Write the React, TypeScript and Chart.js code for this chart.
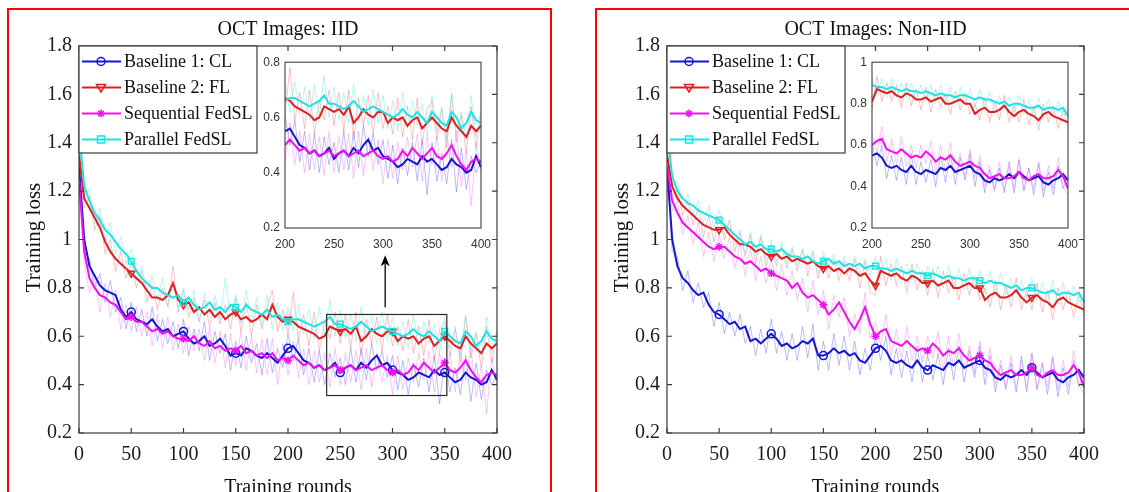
import React, { useEffect, useRef } from 'react';
import { Chart, registerables } from 'chart.js';

Chart.register(...registerables);

// ---------------- DATA ----------------
const ROUNDS = [
  0, 5, 10, 15, 20, 25, 30, 35, 40, 45,
  50, 55, 60, 65, 70, 75, 80, 85, 90, 95,
  100, 105, 110, 115, 120, 125, 130, 135, 140, 145,
  150, 155, 160, 165, 170, 175, 180, 185, 190, 195,
  200, 205, 210, 215, 220, 225, 230, 235, 240, 245,
  250, 255, 260, 265, 270, 275, 280, 285, 290, 295,
  300, 305, 310, 315, 320, 325, 330, 335, 340, 345,
  350, 355, 360, 365, 370, 375, 380, 385, 390, 395,
  400,
];

const LEGEND_LABELS = ['Baseline 1: CL', 'Baseline 2: FL', 'Sequential FedSL', 'Parallel FedSL'];
const TITLES = ['OCT Images: IID', 'OCT Images: Non-IID'];
const X_TITLE = 'Training rounds';
const Y_TITLE = 'Training loss';

const MAIN_X = { min: 0, max: 400, step: 50 };
const MAIN_Y = { min: 0.2, max: 1.8, step: 0.2 };
const INSET_X = { min: 200, max: 400, step: 50 };
const INSET_Y_IID = { min: 0.2, max: 0.8, step: 0.2 };
const INSET_Y_NIID = { min: 0.2, max: 1.0, step: 0.2 };
const MARKER_ROUNDS = [50, 100, 150, 200, 250, 300, 350];

// zoom rectangle and arrow of the IID panel (data units)
const ZOOM_BOX = { x0: 237, x1: 352, y0: 0.355, y1: 0.69 };
const ARROW = { x: 293, y0: 0.72, y1: 0.935 };

// ---- IID, smoothed ----
const CL_IID_SMOOTH = [
  1.30, 1.00, 0.89, 0.85, 0.81, 0.79, 0.78, 0.77, 0.71, 0.68,
  0.70, 0.67, 0.66, 0.65, 0.67, 0.64, 0.62, 0.63, 0.60, 0.61,
  0.62, 0.59, 0.57, 0.58, 0.60, 0.56, 0.57, 0.59, 0.56, 0.52,
  0.53, 0.52, 0.55, 0.54, 0.52, 0.51, 0.53, 0.51, 0.49, 0.52,
  0.55, 0.56, 0.53, 0.50, 0.49, 0.47, 0.48, 0.46, 0.47, 0.49,
  0.45, 0.47, 0.48, 0.46, 0.49, 0.47, 0.50, 0.52, 0.48, 0.49,
  0.46, 0.45, 0.44, 0.42, 0.43, 0.45, 0.44, 0.43, 0.46, 0.44,
  0.45, 0.43, 0.41, 0.42, 0.45, 0.43, 0.42, 0.40, 0.41, 0.46,
  0.42,
];
const FL_IID_SMOOTH = [
  1.35, 1.17, 1.13, 1.09, 1.05, 0.99, 0.95, 0.92, 0.90, 0.88,
  0.86, 0.84, 0.82, 0.79, 0.76, 0.76, 0.75, 0.77, 0.82, 0.75,
  0.73, 0.74, 0.70, 0.72, 0.69, 0.71, 0.68, 0.70, 0.67, 0.69,
  0.70, 0.67, 0.68, 0.66, 0.67, 0.69, 0.67, 0.73, 0.68, 0.66,
  0.67, 0.66, 0.64, 0.63, 0.62, 0.61, 0.59, 0.60, 0.64, 0.63,
  0.62, 0.63, 0.61, 0.64, 0.58, 0.60, 0.63, 0.61, 0.60, 0.62,
  0.62, 0.58, 0.60, 0.59, 0.60, 0.57, 0.59, 0.60, 0.56, 0.58,
  0.60, 0.58, 0.56, 0.55, 0.60, 0.57, 0.55, 0.53, 0.57, 0.55,
  0.57,
];
const SEQ_IID_SMOOTH = [
  1.25, 0.95, 0.84, 0.80, 0.77, 0.76, 0.74, 0.73, 0.70, 0.67,
  0.68, 0.66, 0.66, 0.64, 0.62, 0.63, 0.61, 0.62, 0.60, 0.59,
  0.59, 0.58, 0.60, 0.57, 0.56, 0.58, 0.55, 0.56, 0.54, 0.55,
  0.54, 0.56, 0.53, 0.54, 0.52, 0.53, 0.51, 0.53, 0.50, 0.51,
  0.50, 0.52, 0.50, 0.48, 0.49, 0.47, 0.48, 0.46, 0.47, 0.48,
  0.46, 0.47, 0.48, 0.46, 0.47, 0.48, 0.46, 0.47, 0.48, 0.46,
  0.45, 0.46, 0.44, 0.45, 0.48, 0.46, 0.49, 0.47, 0.45, 0.47,
  0.49, 0.46, 0.45, 0.47, 0.50, 0.46, 0.43, 0.41, 0.44, 0.45,
  0.44,
];
const PAR_IID_SMOOTH = [
  1.45, 1.22, 1.16, 1.11, 1.08, 1.04, 1.02, 0.99, 0.96, 0.94,
  0.91, 0.87, 0.84, 0.82, 0.80, 0.80, 0.78, 0.77, 0.76, 0.77,
  0.74, 0.76, 0.73, 0.71, 0.72, 0.74, 0.71, 0.72, 0.70, 0.73,
  0.72, 0.70, 0.73, 0.71, 0.70, 0.69, 0.71, 0.68, 0.69, 0.67,
  0.66, 0.67, 0.67, 0.66, 0.65, 0.64, 0.65, 0.66, 0.68, 0.65,
  0.65, 0.64, 0.63, 0.64, 0.66, 0.64, 0.62, 0.63, 0.64, 0.63,
  0.62, 0.61, 0.60, 0.61, 0.63, 0.61, 0.60, 0.62, 0.60, 0.58,
  0.62, 0.60, 0.58, 0.57, 0.62, 0.60, 0.56, 0.58, 0.62, 0.59,
  0.58,
];

// ---- IID, raw ----
const CL_IID_RAW = [
  1.30, 0.95, 0.92, 0.80, 0.86, 0.74, 0.83, 0.70, 0.76, 0.63,
  0.74, 0.62, 0.71, 0.60, 0.72, 0.58, 0.67, 0.57, 0.66, 0.55,
  0.67, 0.52, 0.63, 0.54, 0.66, 0.50, 0.62, 0.53, 0.61, 0.46,
  0.58, 0.47, 0.60, 0.49, 0.57, 0.44, 0.59, 0.45, 0.55, 0.47,
  0.61, 0.50, 0.59, 0.44, 0.55, 0.41, 0.54, 0.40, 0.53, 0.43,
  0.51, 0.40, 0.55, 0.41, 0.55, 0.42, 0.57, 0.46, 0.54, 0.43,
  0.52, 0.38, 0.50, 0.36, 0.49, 0.39, 0.51, 0.37, 0.52, 0.32,
  0.51, 0.37, 0.47, 0.36, 0.52, 0.33, 0.49, 0.34, 0.46, 0.40,
  0.44,
];
const FL_IID_RAW = [
  1.36, 1.13, 1.18, 1.04, 1.10, 0.94, 1.00, 0.87, 0.95, 0.84,
  0.90, 0.80, 0.87, 0.74, 0.81, 0.71, 0.80, 0.72, 0.89, 0.70,
  0.79, 0.68, 0.76, 0.66, 0.75, 0.64, 0.74, 0.65, 0.73, 0.63,
  0.76, 0.62, 0.74, 0.60, 0.73, 0.63, 0.72, 0.79, 0.62, 0.71,
  0.61, 0.78, 0.59, 0.69, 0.56, 0.70, 0.54, 0.66, 0.59, 0.70,
  0.57, 0.69, 0.55, 0.70, 0.52, 0.67, 0.57, 0.68, 0.54, 0.69,
  0.56, 0.64, 0.54, 0.67, 0.53, 0.64, 0.52, 0.67, 0.50, 0.63,
  0.66, 0.52, 0.63, 0.49, 0.68, 0.51, 0.61, 0.47, 0.64, 0.49,
  0.62,
];
const SEQ_IID_RAW = [
  1.25, 0.90, 0.78, 0.85, 0.70, 0.82, 0.68, 0.79, 0.63, 0.73,
  0.62, 0.72, 0.60, 0.70, 0.56, 0.69, 0.55, 0.68, 0.54, 0.65,
  0.53, 0.64, 0.54, 0.63, 0.50, 0.64, 0.49, 0.62, 0.47, 0.61,
  0.48, 0.62, 0.46, 0.60, 0.45, 0.59, 0.44, 0.59, 0.40, 0.57,
  0.44, 0.58, 0.43, 0.55, 0.40, 0.54, 0.41, 0.53, 0.39, 0.55,
  0.40, 0.53, 0.41, 0.54, 0.38, 0.55, 0.39, 0.53, 0.41, 0.52,
  0.36, 0.52, 0.38, 0.51, 0.41, 0.53, 0.42, 0.54, 0.37, 0.53,
  0.43, 0.53, 0.37, 0.54, 0.42, 0.55, 0.35, 0.48, 0.28, 0.51,
  0.40,
];
const PAR_IID_RAW = [
  1.45, 1.18, 1.21, 1.06, 1.13, 1.00, 1.07, 0.94, 1.01, 0.90,
  0.96, 0.83, 0.89, 0.78, 0.85, 0.75, 0.84, 0.72, 0.82, 0.72,
  0.80, 0.71, 0.79, 0.66, 0.78, 0.69, 0.77, 0.67, 0.84, 0.68,
  0.77, 0.65, 0.79, 0.66, 0.76, 0.64, 0.77, 0.63, 0.74, 0.62,
  0.72, 0.62, 0.73, 0.61, 0.71, 0.59, 0.72, 0.61, 0.75, 0.60,
  0.71, 0.59, 0.69, 0.58, 0.72, 0.59, 0.68, 0.57, 0.70, 0.58,
  0.68, 0.56, 0.66, 0.55, 0.69, 0.56, 0.66, 0.57, 0.65, 0.53,
  0.68, 0.55, 0.64, 0.52, 0.69, 0.54, 0.62, 0.52, 0.68, 0.53,
  0.63,
];

// ---- Non-IID, smoothed ----
const CL_NIID_SMOOTH = [
  1.30, 1.00, 0.89, 0.84, 0.82, 0.79, 0.77, 0.78, 0.73, 0.70,
  0.69, 0.67, 0.65, 0.66, 0.63, 0.64, 0.58, 0.59, 0.57, 0.59,
  0.61, 0.59, 0.56, 0.57, 0.55, 0.56, 0.58, 0.57, 0.59, 0.52,
  0.52, 0.53, 0.55, 0.53, 0.54, 0.52, 0.53, 0.50, 0.49, 0.52,
  0.55, 0.56, 0.54, 0.50, 0.49, 0.50, 0.48, 0.47, 0.50, 0.47,
  0.46, 0.48, 0.47, 0.46, 0.49, 0.48, 0.50, 0.47, 0.48, 0.49,
  0.50, 0.47, 0.46, 0.43, 0.42, 0.44, 0.43, 0.44, 0.46, 0.44,
  0.47, 0.45, 0.43, 0.44, 0.45, 0.42, 0.41, 0.43, 0.44, 0.46,
  0.43,
];
const FL_NIID_SMOOTH = [
  1.35, 1.22, 1.17, 1.14, 1.12, 1.10, 1.08, 1.06, 1.05, 1.04,
  1.04, 1.05, 1.02, 1.00, 0.98, 0.98, 0.97, 0.95, 0.96, 0.94,
  0.93, 0.94, 0.92, 0.93, 0.91, 0.92, 0.91, 0.90, 0.91, 0.89,
  0.88, 0.89, 0.87, 0.88, 0.86, 0.88, 0.87, 0.85, 0.86, 0.83,
  0.81, 0.87, 0.86, 0.85, 0.86, 0.84, 0.83, 0.85, 0.84, 0.82,
  0.82, 0.83, 0.81, 0.82, 0.83, 0.80, 0.80, 0.81, 0.82, 0.80,
  0.80, 0.75, 0.77, 0.78, 0.76, 0.76, 0.77, 0.79, 0.76, 0.74,
  0.76, 0.77, 0.75, 0.74, 0.72, 0.75, 0.76, 0.74, 0.73, 0.72,
  0.71,
];
const SEQ_NIID_SMOOTH = [
  1.30, 1.16, 1.11, 1.07, 1.05, 1.03, 1.01, 0.99, 0.97, 0.96,
  0.97, 0.97, 0.95, 0.93, 0.92, 0.90, 0.91, 0.89, 0.87, 0.88,
  0.86, 0.85, 0.84, 0.83, 0.80, 0.82, 0.78, 0.76, 0.77, 0.75,
  0.73, 0.69, 0.71, 0.74, 0.70, 0.66, 0.63, 0.67, 0.72, 0.65,
  0.60, 0.62, 0.63, 0.58, 0.57, 0.56, 0.58, 0.56, 0.54, 0.55,
  0.54, 0.57, 0.55, 0.52, 0.54, 0.53, 0.55, 0.52, 0.50, 0.51,
  0.52, 0.50, 0.49, 0.46, 0.44, 0.45, 0.46, 0.44, 0.44, 0.45,
  0.47, 0.44, 0.43, 0.45, 0.46, 0.44, 0.44, 0.45, 0.48, 0.45,
  0.39,
];
const PAR_NIID_SMOOTH = [
  1.45, 1.26, 1.20, 1.17, 1.15, 1.14, 1.12, 1.11, 1.10, 1.09,
  1.08, 1.06, 1.04, 1.02, 1.00, 0.98, 0.99, 0.97, 0.98, 0.96,
  0.96, 0.95, 0.96, 0.94, 0.93, 0.93, 0.92, 0.93, 0.91, 0.90,
  0.91, 0.92, 0.90, 0.91, 0.89, 0.90, 0.89, 0.90, 0.88, 0.89,
  0.89, 0.88, 0.88, 0.87, 0.88, 0.87, 0.86, 0.87, 0.86, 0.86,
  0.85, 0.86, 0.85, 0.84, 0.85, 0.84, 0.84, 0.83, 0.84, 0.84,
  0.83, 0.82, 0.83, 0.82, 0.82, 0.81, 0.80, 0.81, 0.79, 0.80,
  0.80, 0.79, 0.78, 0.78, 0.79, 0.77, 0.78, 0.78, 0.77, 0.78,
  0.74,
];

// ---- Non-IID, raw ----
const CL_NIID_RAW = [
  1.30, 0.95, 0.93, 0.79, 0.87, 0.74, 0.82, 0.72, 0.78, 0.64,
  0.74, 0.61, 0.70, 0.60, 0.69, 0.57, 0.64, 0.52, 0.63, 0.53,
  0.67, 0.53, 0.62, 0.50, 0.61, 0.50, 0.64, 0.51, 0.65, 0.46,
  0.58, 0.46, 0.61, 0.48, 0.60, 0.46, 0.58, 0.44, 0.55, 0.46,
  0.61, 0.50, 0.60, 0.44, 0.55, 0.43, 0.54, 0.41, 0.56, 0.41,
  0.52, 0.42, 0.53, 0.40, 0.55, 0.42, 0.56, 0.41, 0.54, 0.43,
  0.56, 0.40, 0.52, 0.37, 0.48, 0.38, 0.49, 0.37, 0.52, 0.37,
  0.53, 0.38, 0.49, 0.36, 0.51, 0.35, 0.47, 0.36, 0.50, 0.39,
  0.45,
];
const FL_NIID_RAW = [
  1.35, 1.18, 1.21, 1.10, 1.16, 1.06, 1.13, 1.01, 1.10, 0.99,
  1.09, 1.00, 1.08, 0.95, 1.03, 0.93, 1.02, 0.90, 1.01, 0.89,
  0.98, 0.89, 0.97, 0.88, 0.96, 0.87, 0.96, 0.85, 0.95, 0.84,
  0.93, 0.84, 0.92, 0.83, 0.91, 0.83, 0.92, 0.80, 0.91, 0.78,
  0.77, 0.93, 0.81, 0.90, 0.81, 0.89, 0.78, 0.90, 0.79, 0.87,
  0.77, 0.88, 0.76, 0.87, 0.78, 0.85, 0.75, 0.86, 0.77, 0.85,
  0.75, 0.80, 0.72, 0.83, 0.71, 0.81, 0.72, 0.84, 0.71, 0.79,
  0.71, 0.82, 0.70, 0.79, 0.67, 0.80, 0.71, 0.79, 0.68, 0.77,
  0.69,
];
const SEQ_NIID_RAW = [
  1.30, 1.12, 1.16, 1.02, 1.10, 0.98, 1.07, 0.93, 1.03, 0.91,
  1.02, 0.92, 1.01, 0.88, 0.98, 0.85, 0.97, 0.83, 0.93, 0.82,
  0.92, 0.79, 0.90, 0.77, 0.87, 0.75, 0.84, 0.70, 0.83, 0.69,
  0.79, 0.63, 0.77, 0.68, 0.76, 0.60, 0.69, 0.61, 0.78, 0.59,
  0.66, 0.56, 0.69, 0.52, 0.63, 0.50, 0.64, 0.50, 0.60, 0.49,
  0.60, 0.51, 0.62, 0.46, 0.60, 0.47, 0.61, 0.46, 0.56, 0.45,
  0.58, 0.44, 0.55, 0.40, 0.50, 0.39, 0.52, 0.38, 0.50, 0.39,
  0.53, 0.38, 0.49, 0.39, 0.52, 0.38, 0.50, 0.39, 0.54, 0.40,
  0.36,
];
const PAR_NIID_RAW = [
  1.45, 1.22, 1.24, 1.13, 1.19, 1.10, 1.16, 1.07, 1.14, 1.05,
  1.12, 1.02, 1.08, 0.98, 1.04, 0.94, 1.03, 0.93, 1.02, 0.92,
  1.00, 0.91, 0.99, 0.90, 0.97, 0.89, 0.96, 0.89, 0.95, 0.86,
  0.95, 0.88, 0.94, 0.87, 0.93, 0.86, 0.93, 0.86, 0.92, 0.85,
  0.93, 0.84, 0.92, 0.83, 0.92, 0.83, 0.90, 0.83, 0.90, 0.82,
  0.89, 0.82, 0.89, 0.80, 0.89, 0.80, 0.88, 0.79, 0.88, 0.80,
  0.87, 0.78, 0.87, 0.78, 0.86, 0.77, 0.84, 0.77, 0.83, 0.76,
  0.84, 0.75, 0.82, 0.74, 0.83, 0.73, 0.82, 0.74, 0.81, 0.74,
  0.77,
];

// ---------------- STYLE ----------------
const SERIF = "'Liberation Serif', 'Times New Roman', serif";
const SANS = "'Liberation Sans', Arial, sans-serif";

type MarkerKind = 'circle' | 'triangle' | 'star' | 'rect';
const STYLES: { color: string; rawColor: string; marker: MarkerKind }[] = [
  { color: '#1414d4', rawColor: 'rgba(105,105,245,0.45)', marker: 'circle' },
  { color: '#e02020', rawColor: 'rgba(240,100,100,0.38)', marker: 'triangle' },
  { color: '#f00ff0', rawColor: 'rgba(245,120,245,0.42)', marker: 'star' },
  { color: '#1ee3e3', rawColor: 'rgba(110,240,240,0.5)', marker: 'rect' },
];

type Series = { label: string; smooth: number[]; raw: number[] };
const IID_SERIES: Series[] = [
  { label: LEGEND_LABELS[0], smooth: CL_IID_SMOOTH, raw: CL_IID_RAW },
  { label: LEGEND_LABELS[1], smooth: FL_IID_SMOOTH, raw: FL_IID_RAW },
  { label: LEGEND_LABELS[2], smooth: SEQ_IID_SMOOTH, raw: SEQ_IID_RAW },
  { label: LEGEND_LABELS[3], smooth: PAR_IID_SMOOTH, raw: PAR_IID_RAW },
];
const NIID_SERIES: Series[] = [
  { label: LEGEND_LABELS[0], smooth: CL_NIID_SMOOTH, raw: CL_NIID_RAW },
  { label: LEGEND_LABELS[1], smooth: FL_NIID_SMOOTH, raw: FL_NIID_RAW },
  { label: LEGEND_LABELS[2], smooth: SEQ_NIID_SMOOTH, raw: SEQ_NIID_RAW },
  { label: LEGEND_LABELS[3], smooth: PAR_NIID_SMOOTH, raw: PAR_NIID_RAW },
];

const fmtTick = (v: any) => String(+Number(v).toFixed(1));

function buildDatasets(series: Series[], minRound: number, markers: boolean, lw: number) {
  const out: any[] = [];
  const pts = (arr: number[]) =>
    ROUNDS.map((r, i) => ({ x: r, y: arr[i] })).filter((p) => p.x >= minRound);
  series.forEach((s, k) => {
    const st = STYLES[k];
    out.push({
      label: s.label + ' (raw)',
      data: pts(s.raw),
      borderColor: st.rawColor,
      backgroundColor: st.rawColor,
      borderWidth: 1,
      pointRadius: 0,
      fill: false,
      tension: 0,
      order: 20 - k,
    });
    out.push({
      label: s.label,
      data: pts(s.smooth),
      borderColor: st.color,
      backgroundColor: 'rgba(0,0,0,0)',
      borderWidth: lw,
      fill: false,
      tension: 0,
      order: 10 - k,
      pointStyle: st.marker,
      pointRotation: st.marker === 'triangle' ? 180 : 0,
      pointBorderColor: st.color,
      pointBackgroundColor: 'rgba(0,0,0,0)',
      pointBorderWidth: 1.5,
      pointRadius: (c: any) => (markers && c.raw && MARKER_ROUNDS.includes(c.raw.x) ? 4 : 0),
    });
  });
  return out;
}

function drawMarker(ctx: CanvasRenderingContext2D, kind: MarkerKind, x: number, y: number, color: string) {
  ctx.save();
  ctx.strokeStyle = color;
  ctx.lineWidth = 1.5;
  ctx.beginPath();
  if (kind === 'circle') ctx.arc(x, y, 4, 0, Math.PI * 2);
  else if (kind === 'triangle') {
    ctx.moveTo(x, y + 4.5);
    ctx.lineTo(x - 4.5, y - 3);
    ctx.lineTo(x + 4.5, y - 3);
    ctx.closePath();
  } else if (kind === 'rect') ctx.rect(x - 3.5, y - 3.5, 7, 7);
  else {
    for (let k = 0; k < 4; k++) {
      const an = (k * Math.PI) / 4;
      ctx.moveTo(x - 4 * Math.cos(an), y - 4 * Math.sin(an));
      ctx.lineTo(x + 4 * Math.cos(an), y + 4 * Math.sin(an));
    }
  }
  ctx.stroke();
  ctx.restore();
}

type PanelCfg = { title: string; series: Series[]; zoom: boolean };

function mainDecor(panel: PanelCfg) {
  return {
    id: 'mainDecor',
    afterDraw(chart: any) {
      const { ctx, chartArea: a } = chart;
      const xs = chart.scales.x;
      const ys = chart.scales.y;
      ctx.save();
      // box + inward ticks
      ctx.strokeStyle = '#3a3a3a';
      ctx.lineWidth = 1.2;
      ctx.strokeRect(a.left, a.top, a.right - a.left, a.bottom - a.top);
      ctx.beginPath();
      xs.ticks.forEach((t: any) => {
        const px = xs.getPixelForValue(t.value);
        ctx.moveTo(px, a.bottom);
        ctx.lineTo(px, a.bottom - 5);
        ctx.moveTo(px, a.top);
        ctx.lineTo(px, a.top + 5);
      });
      ys.ticks.forEach((t: any) => {
        const py = ys.getPixelForValue(t.value);
        ctx.moveTo(a.left, py);
        ctx.lineTo(a.left + 5, py);
        ctx.moveTo(a.right, py);
        ctx.lineTo(a.right - 5, py);
      });
      ctx.stroke();

      // zoom box + arrow
      if (panel.zoom) {
        const x0 = xs.getPixelForValue(ZOOM_BOX.x0);
        const x1 = xs.getPixelForValue(ZOOM_BOX.x1);
        const y0 = ys.getPixelForValue(ZOOM_BOX.y0);
        const y1 = ys.getPixelForValue(ZOOM_BOX.y1);
        ctx.strokeStyle = '#2a2a2a';
        ctx.lineWidth = 1.2;
        ctx.strokeRect(x0, y1, x1 - x0, y0 - y1);
        const ax = xs.getPixelForValue(ARROW.x);
        const ay0 = ys.getPixelForValue(ARROW.y0);
        const ay1 = ys.getPixelForValue(ARROW.y1);
        ctx.strokeStyle = '#000';
        ctx.lineWidth = 1.3;
        ctx.beginPath();
        ctx.moveTo(ax, ay0);
        ctx.lineTo(ax, ay1 + 8);
        ctx.stroke();
        ctx.fillStyle = '#000';
        ctx.beginPath();
        ctx.moveTo(ax, ay1);
        ctx.lineTo(ax - 4.5, ay1 + 11);
        ctx.lineTo(ax, ay1 + 8);
        ctx.lineTo(ax + 4.5, ay1 + 11);
        ctx.closePath();
        ctx.fill();
      }

      // legend
      const lx = a.left;
      const ly = a.top;
      ctx.fillStyle = '#fff';
      ctx.fillRect(lx, ly, 178, 107);
      ctx.strokeStyle = '#3a3a3a';
      ctx.lineWidth = 1.2;
      ctx.strokeRect(lx, ly, 178, 107);
      ctx.font = `18px ${SERIF}`;
      ctx.textAlign = 'left';
      ctx.textBaseline = 'middle';
      panel.series.forEach((s, k) => {
        const st = STYLES[k];
        const cy = ly + 15.5 + 26 * k;
        ctx.strokeStyle = st.color;
        ctx.lineWidth = 2;
        ctx.beginPath();
        ctx.moveTo(lx + 3, cy);
        ctx.lineTo(lx + 42, cy);
        ctx.stroke();
        drawMarker(ctx, st.marker, lx + 22, cy, st.color);
        ctx.fillStyle = '#111';
        ctx.fillText(s.label, lx + 45, cy + 1);
      });

      // titles
      ctx.fillStyle = '#111';
      ctx.font = `20px ${SERIF}`;
      ctx.textAlign = 'center';
      ctx.textBaseline = 'alphabetic';
      ctx.fillText(panel.title, (a.left + a.right) / 2, a.top - 11);
      ctx.fillText(X_TITLE, (a.left + a.right) / 2, a.bottom + 60);
      ctx.save();
      ctx.translate(a.left - 44.5, (a.top + a.bottom) / 2 - 2);
      ctx.rotate(-Math.PI / 2);
      ctx.font = `21px ${SERIF}`;
      ctx.textBaseline = 'middle';
      ctx.fillText(Y_TITLE, 0, 0);
      ctx.restore();
      ctx.restore();
    },
  };
}

const insetDecor = {
  id: 'insetDecor',
  beforeDatasetsDraw(chart: any) {
    const { ctx, chartArea: a } = chart;
    ctx.save();
    ctx.fillStyle = '#fff';
    ctx.fillRect(a.left, a.top, a.right - a.left, a.bottom - a.top);
    ctx.restore();
  },
  afterDraw(chart: any) {
    const { ctx, chartArea: a } = chart;
    ctx.save();
    ctx.strokeStyle = '#404040';
    ctx.lineWidth = 1.1;
    ctx.strokeRect(a.left, a.top, a.right - a.left, a.bottom - a.top);
    ctx.restore();
  },
};

function mainConfig(panel: PanelCfg, padding: any): any {
  return {
    type: 'line',
    data: { datasets: buildDatasets(panel.series, MAIN_X.min, true, 2) },
    options: {
      animation: false,
      responsive: false,
      devicePixelRatio: 1,
      events: [],
      layout: { padding },
      plugins: { legend: { display: false }, tooltip: { enabled: false }, title: { display: false } },
      scales: {
        x: {
          type: 'linear',
          min: MAIN_X.min,
          max: MAIN_X.max,
          ticks: { stepSize: MAIN_X.step, autoSkip: false, maxRotation: 0, padding: 10, color: '#1c1c1c', font: { family: SERIF, size: 20 } },
          grid: { display: false, drawTicks: false },
          border: { display: false },
          afterFit: (s: any) => { s.height = 40; },
        },
        y: {
          type: 'linear',
          min: MAIN_Y.min,
          max: MAIN_Y.max,
          ticks: { stepSize: MAIN_Y.step, autoSkip: false, padding: 7, color: '#1c1c1c', font: { family: SERIF, size: 20 }, callback: fmtTick },
          grid: { display: false, drawTicks: false },
          border: { display: false },
          afterFit: (s: any) => { s.width = 60; },
        },
      },
    },
    plugins: [mainDecor(panel)],
  };
}

function insetConfig(series: Series[], yr: { min: number; max: number; step: number }, padding: any): any {
  return {
    type: 'line',
    data: { datasets: buildDatasets(series, INSET_X.min, false, 2) },
    options: {
      animation: false,
      responsive: false,
      devicePixelRatio: 1,
      events: [],
      layout: { padding },
      plugins: { legend: { display: false }, tooltip: { enabled: false }, title: { display: false } },
      scales: {
        x: {
          type: 'linear',
          min: INSET_X.min,
          max: INSET_X.max,
          ticks: { stepSize: INSET_X.step, autoSkip: false, maxRotation: 0, padding: 9, color: '#333', font: { family: SANS, size: 12 } },
          grid: { display: false, drawTicks: false },
          border: { display: false },
          afterFit: (s: any) => { s.height = 24; },
        },
        y: {
          type: 'linear',
          min: yr.min,
          max: yr.max,
          ticks: { stepSize: yr.step, autoSkip: false, padding: 5, color: '#333', font: { family: SANS, size: 12 }, callback: fmtTick },
          grid: { display: false, drawTicks: false },
          border: { display: false },
          afterFit: (s: any) => { s.width = 30; },
        },
      },
    },
    plugins: [insetDecor],
  };
}

function ChartCanvas(props: { make: () => any; left: number; top: number; width: number; height: number }) {
  const ref = useRef<HTMLCanvasElement>(null);
  useEffect(() => {
    const chart = new Chart(ref.current as HTMLCanvasElement, props.make());
    return () => chart.destroy();
  }, []);
  return (
    <canvas
      ref={ref}
      width={props.width}
      height={props.height}
      style={{ position: 'absolute', left: props.left, top: props.top, width: props.width, height: props.height }}
    />
  );
}

const IID_PANEL: PanelCfg = { title: TITLES[0], series: IID_SERIES, zoom: true };
const NIID_PANEL: PanelCfg = { title: TITLES[1], series: NIID_SERIES, zoom: false };

export default function App() {
  return (
    <div style={{ position: 'fixed', left: 0, top: 0, width: 1129, height: 492, overflow: 'hidden', background: '#fff' }}>
      <div style={{ position: 'absolute', left: 7, top: 8, width: 545, height: 600, border: '2px solid #ff0000', boxSizing: 'border-box' }} />
      <div style={{ position: 'absolute', left: 595, top: 8, width: 600, height: 600, border: '2px solid #ff0000', boxSizing: 'border-box' }} />
      <ChartCanvas
        make={() => mainConfig(IID_PANEL, { left: 19, top: 46, right: 63, bottom: 19 })}
        left={0} top={0} width={560} height={492}
      />
      <ChartCanvas
        make={() => mainConfig(NIID_PANEL, { left: 27, top: 46, right: 45, bottom: 19 })}
        left={580} top={0} width={549} height={492}
      />
      <ChartCanvas
        make={() => insetConfig(IID_SERIES, INSET_Y_IID, { left: 15, top: 9, right: 17, bottom: 8 })}
        left={240} top={50} width={260} height={210}
      />
      <ChartCanvas
        make={() => insetConfig(NIID_SERIES, INSET_Y_NIID, { left: 15, top: 9, right: 16, bottom: 8 })}
        left={827} top={50} width={260} height={210}
      />
    </div>
  );
}
